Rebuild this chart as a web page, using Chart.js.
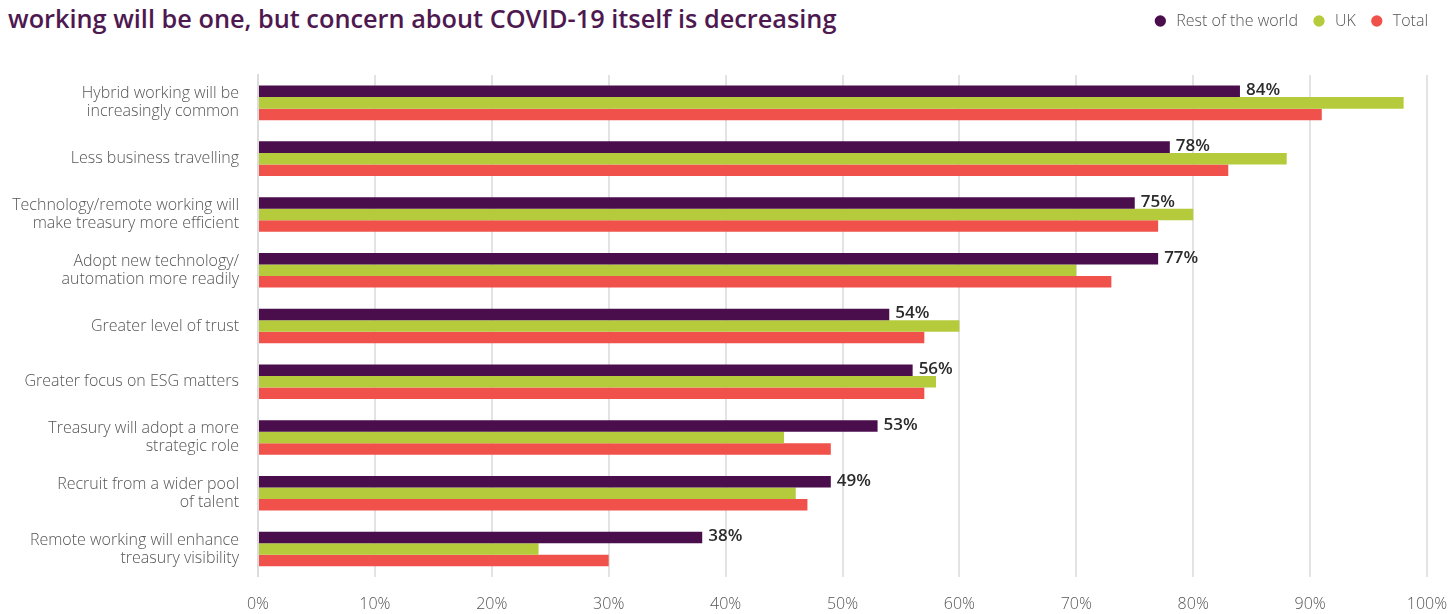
<!DOCTYPE html>
<html>
<head>
<meta charset="utf-8">
<script src="https://cdn.jsdelivr.net/npm/chart.js@4.4.1/dist/chart.umd.min.js"></script>
<style>
  html, body { margin: 0; padding: 0; background: #fff; }
  #wrap { position: relative; width: 1451px; height: 614px; }
  #title {
    position: absolute; left: 8px; top: 1px;
    font: 600 25.3px 'Open Sans', sans-serif; color: #4e1850;
    white-space: nowrap;
  }
  canvas { position: absolute; left: 0; top: 0; }
</style>
</head>
<body>
<div id="wrap">
  <div id="title">working will be one, but concern about COVID-19 itself is decreasing</div>
  <canvas id="chart" width="1451" height="614" style="width:1451px;height:614px"></canvas>
</div>
<script>
const categories = [
  ['Hybrid working will be', 'increasingly common'],
  'Less business travelling',
  ['Technology/remote working will', 'make treasury more efficient'],
  ['Adopt new technology/', 'automation more readily'],
  'Greater level of trust',
  'Greater focus on ESG matters',
  ['Treasury will adopt a more', 'strategic role'],
  ['Recruit from a wider pool', 'of talent'],
  ['Remote working will enhance', 'treasury visibility']
]
const restOfWorld = [84, 78, 75, 77, 54, 56, 53, 49, 38]
const uk = [98, 88, 80, 70, 60, 58, 45, 46, 24]
const total = [91, 83, 77, 73, 57, 57, 49, 47, 30]

const PURPLE = '#4a0e4c'
const GREEN = '#b5cb3b'
const RED = '#f0524b'

const fontFamily = "'Open Sans', sans-serif"

// метки значений справа от фиолетовых столбцов
const valueLabels = {
  id: 'valueLabels',
  afterDatasetsDraw(chart) {
    const ctx = chart.ctx
    const meta = chart.getDatasetMeta(0)
    ctx.save()
    ctx.font = '600 17px ' + fontFamily
    ctx.fillStyle = '#2b2b2b'
    ctx.textAlign = 'left'
    ctx.textBaseline = 'middle'
    meta.data.forEach((bar, i) => {
      ctx.fillText(restOfWorld[i] + '%', bar.x + 6, bar.y - 1)
    })
    ctx.restore()
  }
}

// фиксируем высоту легенды, чтобы область графика начиналась ниже
const legendHeight = {
  id: 'legendHeight',
  beforeInit(chart) {
    const origFit = chart.legend.fit
    chart.legend.fit = function () {
      origFit.bind(chart.legend)()
      this.height = 75
    }
  }
}

new Chart(document.getElementById('chart'), {
  type: 'bar',
  data: {
    labels: categories,
    datasets: [
      { label: 'Rest of the world', data: restOfWorld, backgroundColor: PURPLE },
      { label: 'UK', data: uk, backgroundColor: GREEN },
      { label: 'Total', data: total, backgroundColor: RED }
    ]
  },
  options: {
    indexAxis: 'y',
    responsive: false,
    animation: false,
    categoryPercentage: 0.62,
    barPercentage: 1,
    layout: { padding: { left: 0, right: 10, top: 0, bottom: -19 } },
    plugins: {
      tooltip: { enabled: false },
      legend: {
        position: 'top',
        align: 'end',
        labels: {
          usePointStyle: true,
          pointStyle: 'circle',
          boxWidth: 16,
          boxHeight: 8,
          padding: 13,
          color: '#555555',
          font: { family: fontFamily, size: 16, weight: 300 }
        }
      }
    },
    scales: {
      x: {
        min: 0,
        max: 100,
        afterFit(scale) { scale.paddingRight = 24; scale.paddingLeft = 0 },
        ticks: {
          stepSize: 10,
          padding: 18.4,
          color: '#555555',
          font: { family: fontFamily, size: 16, weight: 300 },
          callback: v => v + '%'
        },
        grid: { color: '#e3e3e3', lineWidth: 2, drawTicks: false },
        border: { display: false }
      },
      y: {
        afterFit(scale) { scale.width = 258 },
        ticks: {
          padding: 19,
          color: '#555555',
          font: { family: fontFamily, size: 16, weight: 300, lineHeight: 1.13 }
        },
        grid: { display: false, drawTicks: false },
        border: { display: true, color: '#dcdcdc', width: 2 }
      }
    }
  },
  plugins: [valueLabels, legendHeight]
})
</script>
</body>
</html>
